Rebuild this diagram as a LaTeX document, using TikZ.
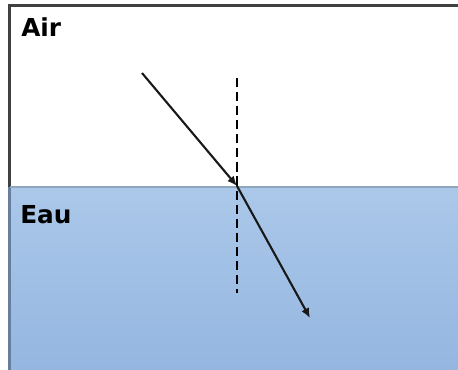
\documentclass[tikz,border=0pt]{standalone}
\usepackage{fontspec}
\setsansfont{DejaVu Sans}
\usetikzlibrary{arrows.meta}
\definecolor{watertop}{HTML}{ABC8E9}
\definecolor{waterbot}{HTML}{93B5E0}
\definecolor{surface}{HTML}{8FA7BE}
\definecolor{frame}{HTML}{404040}
\begin{document}
\begin{tikzpicture}[x=0.025cm, y=-0.025cm, >={Latex[length=7pt,width=6pt]},
      medium/.style={font=\sffamily\bfseries\fontsize{17.6}{20}\selectfont, anchor=base west, inner sep=0pt},
      ray/.style={->, line width=1.5pt, black!90},
      normal/.style={line width=1.6pt, black, dash pattern=on 6.5pt off 3.5pt}]
    \useasboundingbox (0,0) rectangle (458,369);
    \clip (0,0) rectangle (458,369);
    \fill[white] (0,0) rectangle (458,369);
    % water
    \shade[top color=watertop, bottom color=waterbot] (9.5,187) rectangle (470,380);
    \draw[line width=1.6pt, frame] (9.5,187) |- (470,5.5);
    \draw[line width=1.6pt, waterbot!70!black] (9.5,187) -- (9.5,380);
    \draw[line width=1.8pt, surface] (9.5,187) -- (470,187);
    \node[medium] (air) at (21,36) {Air};
    \node[medium] (eau) at (20,223) {Eau};
    % rays
    \coordinate (src) at (142,73);
    \coordinate (hit) at (237,186);
    \coordinate (dst) at (310,318);
    \coordinate (ntop) at (237,78);
    \coordinate (nbot) at (237,293);
    \draw[normal] (ntop) -- (nbot);
    \draw[ray] (src) -- (hit);
    \draw[ray] (hit) -- (dst);
  \end{tikzpicture}
\end{document}
